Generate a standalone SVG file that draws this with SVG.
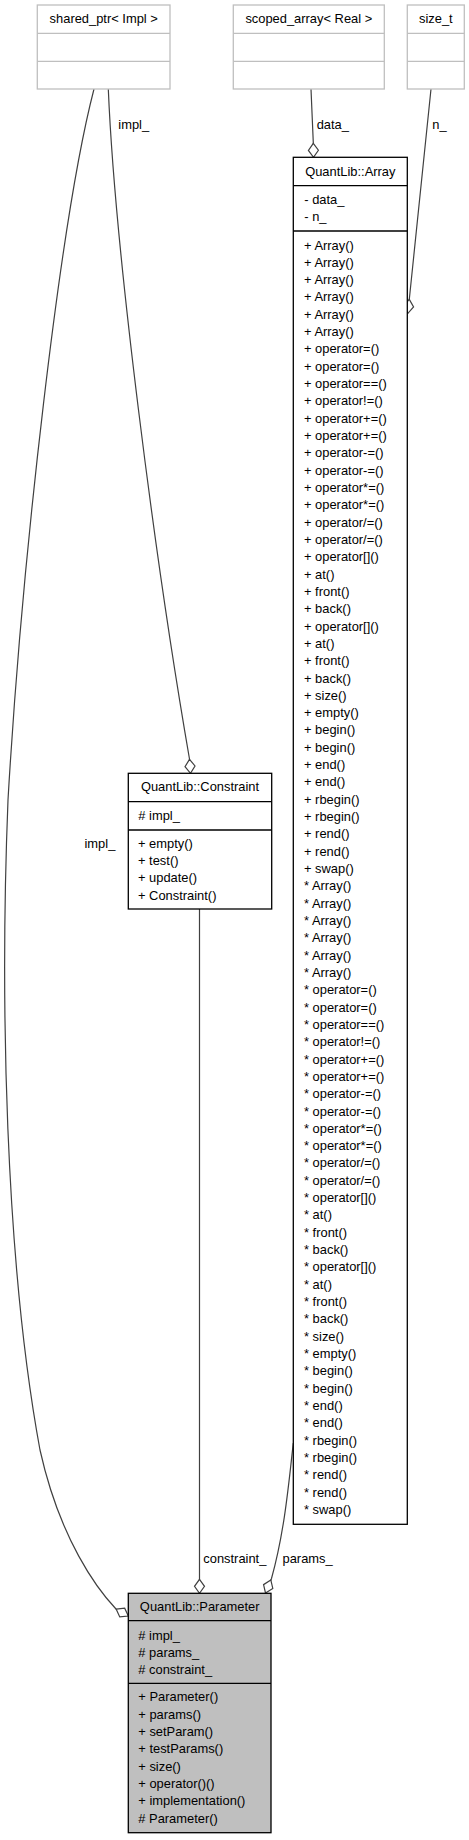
<svg xmlns="http://www.w3.org/2000/svg" width="469" height="1840" viewBox="0 0 469 1840">
<style>
.t { font-family: "Liberation Sans", Arial, sans-serif; font-size: 12.9px; fill: #000; }
.c { text-anchor: middle; }
.gb { fill: #fff; stroke: #bfbfbf; stroke-width: 1.3; }
.nb { fill: #fff; stroke: #000; stroke-width: 1.3; }
.pb { fill: #bfbfbf; stroke: #000; stroke-width: 1.3; }
.gl { stroke: #bfbfbf; stroke-width: 1.3; }
.nl { stroke: #000; stroke-width: 1.3; }
.edge { fill: none; stroke: #404040; stroke-width: 1.2; marker-end: url(#dia); }
</style>
<defs>
<marker id="dia" markerUnits="userSpaceOnUse" markerWidth="16" markerHeight="12" viewBox="-1 -6 16 12" refX="14" refY="0" orient="auto" overflow="visible">
<path d="M0,0 L7,-5 L14,0 L7,5 Z" fill="#fff" stroke="#404040" stroke-width="1.2"/>
</marker>
</defs>
<rect width="469" height="1840" fill="#fff"/>

<g id="connectors">
<path class="edge" d="M94,89 C60,220 22,560 8,800 C0,1000 5,1260 40,1450 C60,1540 98,1590 116,1609 L128.3,1616"/>
<path class="edge" d="M108.3,89 C115,250 155,560 189.5,759 L190.5,773.3"/>
<path class="edge" d="M311,89 L313.3,143 L313.5,157.3"/>
<path class="edge" d="M431,89 L409.3,299.3 L407.9,313.3"/>
<path class="edge" d="M199.5,909 L199.5,1579.3 L199.5,1593.3"/>
<path class="edge" d="M293.3,1443 C289,1480 285,1530 271.5,1578.5 L265.5,1593"/>
<text class="t" x="84.5" y="848">impl_</text>
<text class="t" x="118.3" y="128.5">impl_</text>
<text class="t" x="316.7" y="128.5">data_</text>
<text class="t" x="432.3" y="128.5">n_</text>
<text class="t" x="203.3" y="1562.5">constraint_</text>
<text class="t" x="282.5" y="1562.5">params_</text>
</g>

<g id="shared_ptr">
<rect class="gb" x="37.3" y="5" width="132.7" height="84"/>
<line class="gl" x1="37.3" y1="33.3" x2="170" y2="33.3"/>
<line class="gl" x1="37.3" y1="61.3" x2="170" y2="61.3"/>
<text class="t c" x="103.7" y="23.3">shared_ptr&lt; Impl &gt;</text>
</g>

<g id="scoped_array">
<rect class="gb" x="233.3" y="5" width="151" height="84"/>
<line class="gl" x1="233.3" y1="33.3" x2="384.3" y2="33.3"/>
<line class="gl" x1="233.3" y1="61.3" x2="384.3" y2="61.3"/>
<text class="t c" x="308.8" y="23.3">scoped_array&lt; Real &gt;</text>
</g>

<g id="size_t">
<rect class="gb" x="407.3" y="5" width="57" height="84"/>
<line class="gl" x1="407.3" y1="33.3" x2="464.3" y2="33.3"/>
<line class="gl" x1="407.3" y1="61.3" x2="464.3" y2="61.3"/>
<text class="t c" x="435.8" y="23.3">size_t</text>
</g>

<g id="Array">
<rect class="nb" x="293.3" y="157.3" width="114" height="1367"/>
<line class="nl" x1="293.3" y1="185.7" x2="407.3" y2="185.7"/>
<line class="nl" x1="293.3" y1="231" x2="407.3" y2="231"/>
<text class="t c" x="350.3" y="175.5">QuantLib::Array</text>
<text class="t" x="304.3" y="204">- data_</text>
<text class="t" x="304.3" y="221.3">- n_</text>
<text class="t" x="304" y="249.5"><tspan x="304">+ Array()</tspan><tspan x="304" dy="17.32">+ Array()</tspan><tspan x="304" dy="17.32">+ Array()</tspan><tspan x="304" dy="17.32">+ Array()</tspan><tspan x="304" dy="17.32">+ Array()</tspan><tspan x="304" dy="17.32">+ Array()</tspan><tspan x="304" dy="17.32">+ operator=()</tspan><tspan x="304" dy="17.32">+ operator=()</tspan><tspan x="304" dy="17.32">+ operator==()</tspan><tspan x="304" dy="17.32">+ operator!=()</tspan><tspan x="304" dy="17.32">+ operator+=()</tspan><tspan x="304" dy="17.32">+ operator+=()</tspan><tspan x="304" dy="17.32">+ operator-=()</tspan><tspan x="304" dy="17.32">+ operator-=()</tspan><tspan x="304" dy="17.32">+ operator*=()</tspan><tspan x="304" dy="17.32">+ operator*=()</tspan><tspan x="304" dy="17.32">+ operator/=()</tspan><tspan x="304" dy="17.32">+ operator/=()</tspan><tspan x="304" dy="17.32">+ operator[]()</tspan><tspan x="304" dy="17.32">+ at()</tspan><tspan x="304" dy="17.32">+ front()</tspan><tspan x="304" dy="17.32">+ back()</tspan><tspan x="304" dy="17.32">+ operator[]()</tspan><tspan x="304" dy="17.32">+ at()</tspan><tspan x="304" dy="17.32">+ front()</tspan><tspan x="304" dy="17.32">+ back()</tspan><tspan x="304" dy="17.32">+ size()</tspan><tspan x="304" dy="17.32">+ empty()</tspan><tspan x="304" dy="17.32">+ begin()</tspan><tspan x="304" dy="17.32">+ begin()</tspan><tspan x="304" dy="17.32">+ end()</tspan><tspan x="304" dy="17.32">+ end()</tspan><tspan x="304" dy="17.32">+ rbegin()</tspan><tspan x="304" dy="17.32">+ rbegin()</tspan><tspan x="304" dy="17.32">+ rend()</tspan><tspan x="304" dy="17.32">+ rend()</tspan><tspan x="304" dy="17.32">+ swap()</tspan><tspan x="304" dy="17.32">* Array()</tspan><tspan x="304" dy="17.32">* Array()</tspan><tspan x="304" dy="17.32">* Array()</tspan><tspan x="304" dy="17.32">* Array()</tspan><tspan x="304" dy="17.32">* Array()</tspan><tspan x="304" dy="17.32">* Array()</tspan><tspan x="304" dy="17.32">* operator=()</tspan><tspan x="304" dy="17.32">* operator=()</tspan><tspan x="304" dy="17.32">* operator==()</tspan><tspan x="304" dy="17.32">* operator!=()</tspan><tspan x="304" dy="17.32">* operator+=()</tspan><tspan x="304" dy="17.32">* operator+=()</tspan><tspan x="304" dy="17.32">* operator-=()</tspan><tspan x="304" dy="17.32">* operator-=()</tspan><tspan x="304" dy="17.32">* operator*=()</tspan><tspan x="304" dy="17.32">* operator*=()</tspan><tspan x="304" dy="17.32">* operator/=()</tspan><tspan x="304" dy="17.32">* operator/=()</tspan><tspan x="304" dy="17.32">* operator[]()</tspan><tspan x="304" dy="17.32">* at()</tspan><tspan x="304" dy="17.32">* front()</tspan><tspan x="304" dy="17.32">* back()</tspan><tspan x="304" dy="17.32">* operator[]()</tspan><tspan x="304" dy="17.32">* at()</tspan><tspan x="304" dy="17.32">* front()</tspan><tspan x="304" dy="17.32">* back()</tspan><tspan x="304" dy="17.32">* size()</tspan><tspan x="304" dy="17.32">* empty()</tspan><tspan x="304" dy="17.32">* begin()</tspan><tspan x="304" dy="17.32">* begin()</tspan><tspan x="304" dy="17.32">* end()</tspan><tspan x="304" dy="17.32">* end()</tspan><tspan x="304" dy="17.32">* rbegin()</tspan><tspan x="304" dy="17.32">* rbegin()</tspan><tspan x="304" dy="17.32">* rend()</tspan><tspan x="304" dy="17.32">* rend()</tspan><tspan x="304" dy="17.32">* swap()</tspan></text>
</g>

<g id="Constraint">
<rect class="nb" x="128.3" y="773.3" width="143.4" height="135.7"/>
<line class="nl" x1="128.3" y1="801.7" x2="271.7" y2="801.7"/>
<line class="nl" x1="128.3" y1="830" x2="271.7" y2="830"/>
<text class="t c" x="200" y="791.2">QuantLib::Constraint</text>
<text class="t" x="138.3" y="820.2"># impl_</text>
<text class="t" x="138" y="847.8"><tspan x="138">+ empty()</tspan><tspan x="138" dy="17.32">+ test()</tspan><tspan x="138" dy="17.32">+ update()</tspan><tspan x="138" dy="17.32">+ Constraint()</tspan></text>
</g>

<g id="Parameter">
<rect class="pb" x="128.3" y="1593.3" width="142.7" height="239.4"/>
<line class="nl" x1="128.3" y1="1620.7" x2="271" y2="1620.7"/>
<line class="nl" x1="128.3" y1="1683.3" x2="271" y2="1683.3"/>
<text class="t c" x="199.7" y="1611.2">QuantLib::Parameter</text>
<text class="t" x="138.3" y="1639.5"><tspan x="138.3"># impl_</tspan><tspan x="138.3" dy="17.32"># params_</tspan><tspan x="138.3" dy="17.32"># constraint_</tspan></text>
<text class="t" x="138.3" y="1701.3"><tspan x="138.3">+ Parameter()</tspan><tspan x="138.3" dy="17.32">+ params()</tspan><tspan x="138.3" dy="17.32">+ setParam()</tspan><tspan x="138.3" dy="17.32">+ testParams()</tspan><tspan x="138.3" dy="17.32">+ size()</tspan><tspan x="138.3" dy="17.32">+ operator()()</tspan><tspan x="138.3" dy="17.32">+ implementation()</tspan><tspan x="138.3" dy="17.32"># Parameter()</tspan></text>
</g>
</svg>
